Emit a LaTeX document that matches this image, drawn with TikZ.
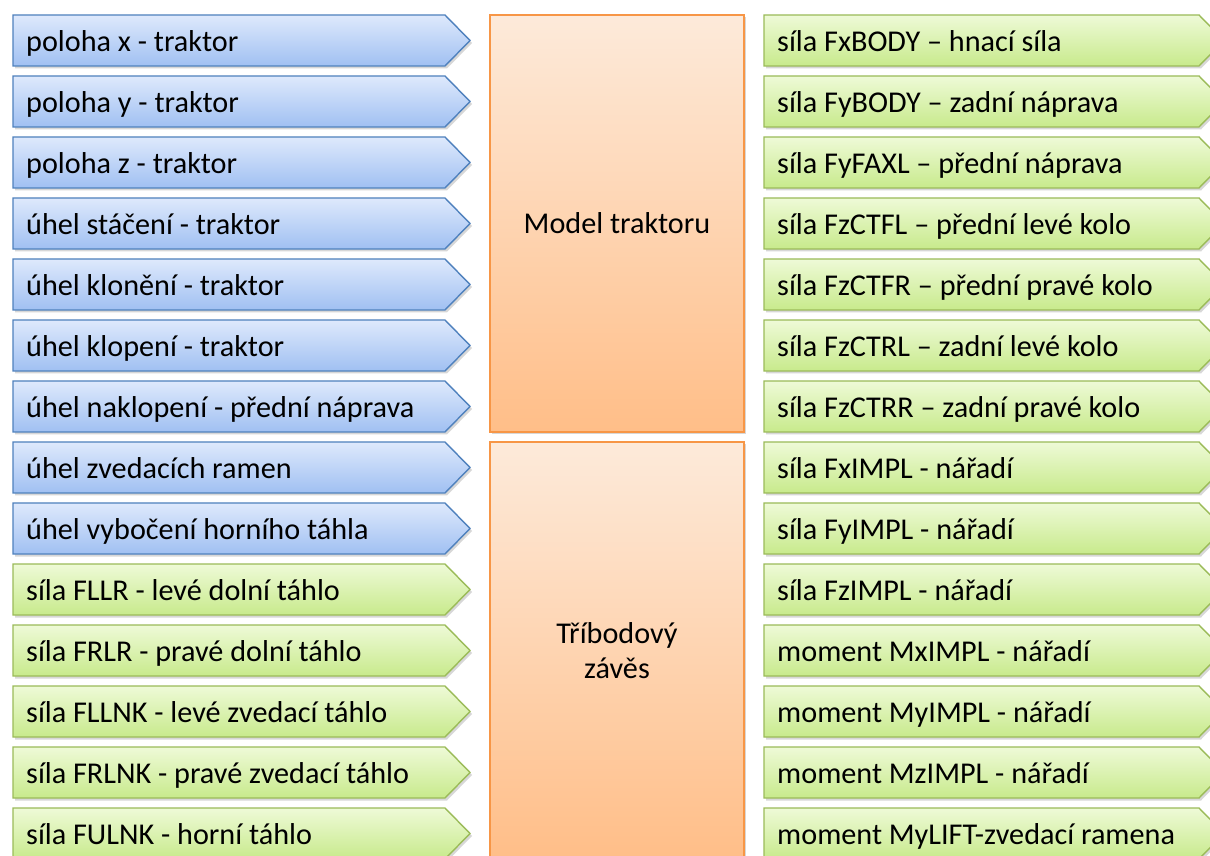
\documentclass[tikz,border=0pt]{standalone}
\usepackage{fontspec}
\setmainfont{Carlito}
\usetikzlibrary{shadows}
\definecolor{bluetop}{RGB}{222,233,252}
\definecolor{bluebot}{RGB}{160,192,242}
\definecolor{blueedge}{RGB}{79,129,189}
\definecolor{greentop}{RGB}{238,250,215}
\definecolor{greenbot}{RGB}{200,234,140}
\definecolor{greenedge}{RGB}{155,187,89}
\definecolor{orangetop}{RGB}{253,234,218}
\definecolor{orangebot}{RGB}{255,190,136}
\definecolor{orangeedge}{RGB}{247,150,70}
\tikzset{
  shapeshadow/.style={drop shadow={opacity=0.22,shadow xshift=2pt,shadow yshift=-2.5pt,fill=black!70}},
  bluearrow/.style={draw=blueedge,line width=1.4pt,top color=bluetop,bottom color=bluebot,shapeshadow,line join=miter},
  greenarrow/.style={draw=greenedge,line width=1.4pt,top color=greentop,bottom color=greenbot,shapeshadow,line join=miter},
  orangebox/.style={draw=orangeedge,line width=1.4pt,top color=orangetop,bottom color=orangebot,shapeshadow,minimum width=254pt,minimum height=417pt,inner sep=0pt,align=center,font=\fontsize{30.2}{35}\selectfont},
  rowtext/.style={anchor=base west,inner sep=0pt,font=\fontsize{30.2}{36}\selectfont,text=black}
}
\begin{document}
\begin{tikzpicture}[x=1pt,y=1pt]
\useasboundingbox (0,0) rectangle (1210,855);
\clip (0,0) rectangle (1210,855);
\fill[white] (0,0) rectangle (1210,855);
% left column
\foreach \i/\t/\c in {0/poloha x - traktor/bluearrow,
  1/poloha y - traktor/bluearrow,
  2/poloha z - traktor/bluearrow,
  3/úhel stáčení - traktor/bluearrow,
  4/úhel klonění - traktor/bluearrow,
  5/úhel klopení - traktor/bluearrow,
  6/úhel naklopení - přední náprava/bluearrow,
  7/úhel zvedacích ramen/bluearrow,
  8/úhel vybočení horního táhla/bluearrow,
  9/síla FLLR - levé dolní táhlo/greenarrow,
  10/síla FRLR - pravé dolní táhlo/greenarrow,
  11/síla FLLNK - levé zvedací táhlo/greenarrow,
  12/síla FRLNK - pravé zvedací táhlo/greenarrow,
  13/síla FULNK - horní táhlo/greenarrow}{
  \pgfmathsetmacro{\yt}{855-15-61*\i}
  \pgfmathsetmacro{\yb}{\yt-51}
  \pgfmathsetmacro{\yc}{\yt-25.5}
  \path[\c] (13,\yt) -- (445,\yt) -- (470,\yc) -- (445,\yb) -- (13,\yb) -- cycle;
  \node[rowtext] (l\i) at (26,\yc-11) {\t};
}
% right column
\foreach \i/\t in {0/síla FxBODY – hnací síla,
  1/síla FyBODY – zadní náprava,
  2/síla FyFAXL – přední náprava,
  3/síla FzCTFL – přední levé kolo,
  4/síla FzCTFR – přední pravé kolo,
  5/síla FzCTRL – zadní levé kolo,
  6/síla FzCTRR – zadní pravé kolo,
  7/síla FxIMPL - nářadí,
  8/síla FyIMPL - nářadí,
  9/síla FzIMPL - nářadí,
  10/moment MxIMPL - nářadí,
  11/moment MyIMPL - nářadí,
  12/moment MzIMPL - nářadí,
  13/moment MyLIFT-zvedací ramena}{
  \pgfmathsetmacro{\yt}{855-15-61*\i}
  \pgfmathsetmacro{\yb}{\yt-51}
  \pgfmathsetmacro{\yc}{\yt-25.5}
  \path[greenarrow] (764,\yt) -- (1199,\yt) -- (1224,\yc) -- (1199,\yb) -- (764,\yb) -- cycle;
  \node[rowtext] (r\i) at (777,\yc-11) {\t};
}
% centre boxes
\node[orangebox] (model) at (617,631.5) {\raisebox{-1.5pt}{Model traktoru}};
\node[orangebox] (zaves) at (617,204.5) {Tříbodový\\závěs};
\end{tikzpicture}
\end{document}
